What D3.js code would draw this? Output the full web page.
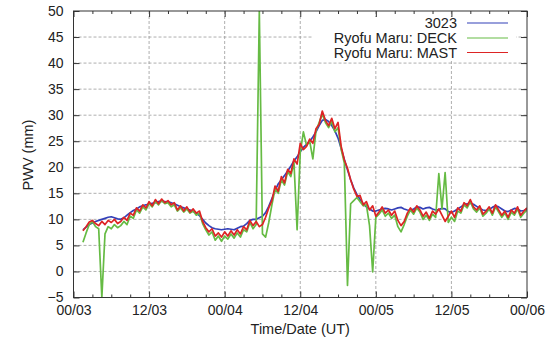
<!DOCTYPE html>
<html>
<head>
<meta charset="utf-8">
<script src="https://cdn.jsdelivr.net/npm/d3@7"></script>
<style>
  html, body { margin: 0; padding: 0; background: #fff; }
  svg { display: block; }
  text { font-family: "Liberation Sans", Arial, Helvetica, sans-serif; fill: #222; }
</style>
</head>
<body>
<svg id="chart" width="548" height="344"></svg>
<script>
// Precipitable water vapour, 3-6 (UT), half-hourly samples from 01:30 on day 03
const startHour = 1.5;
const stepHours = 0.5;

const xTickHours = [0, 12, 24, 36, 48, 60, 72];
const xTickLabels = ["00/03", "12/03", "00/04", "12/04", "00/05", "12/05", "00/06"];
const yTicks = [-5, 0, 5, 10, 15, 20, 25, 30, 35, 40, 45, 50];

const seriesNames = ["3023", "Ryofu Maru: DECK", "Ryofu Maru: MAST"];

const pwv3023 = [
  8.0, 8.5, 9.0, 9.3, 9.6, 9.8, 10.0, 10.2, 10.4, 10.5,
  10.3, 10.1, 10.0, 10.3, 10.8, 11.3, 11.7, 12.0, 12.4, 12.6,
  12.8, 12.9, 13.1, 13.2, 13.4, 13.5, 13.4, 13.3, 13.2, 13.0,
  12.7, 12.4, 12.2, 12.0, 11.8, 11.5, 11.2, 10.7, 10.0, 9.3,
  8.8, 8.4, 8.2, 8.1, 8.0, 8.1, 8.2, 8.1, 8.0, 8.3,
  8.6, 8.7, 9.2, 9.8, 10.0, 10.0, 10.3, 10.6, 11.3, 12.5,
  14.0, 15.5, 16.8, 17.6, 18.4, 19.3, 20.2, 21.2, 22.0, 23.0,
  23.8, 24.4, 25.0, 25.8, 26.8, 28.0, 29.0, 29.2, 28.8, 28.0,
  27.0, 25.6, 23.6, 21.5, 19.5, 17.6, 16.0, 14.8, 13.8, 13.0,
  12.4, 12.0, 11.6, 11.6, 11.8, 12.0, 12.1, 12.0, 11.8, 12.0,
  12.2, 12.3, 12.0, 11.8, 11.7, 12.0, 12.4, 12.3, 12.0, 12.2,
  12.3, 12.0, 11.8, 11.9, 12.1, 12.0, 11.5, 11.3, 11.6, 12.0,
  12.4, 12.8, 13.0, 13.1, 12.9, 12.5, 12.1, 11.8, 11.7, 11.9,
  12.3, 12.6, 12.4, 12.0, 11.6, 11.5, 11.8, 12.1, 12.0, 11.6,
  11.7, 12.0
];

const pwvDeck = [
  5.6, 7.4, 9.0, 9.6, 8.6, 8.2, -5.0, 7.2, 8.6, 8.2,
  9.0, 8.4, 8.8, 9.6, 9.0, 10.6, 10.2, 11.8, 11.2, 12.4,
  11.8, 13.0, 12.4, 13.4, 12.8, 13.6, 13.0, 13.2, 12.4, 12.8,
  11.6, 12.2, 11.4, 12.0, 11.2, 11.6, 10.8, 11.2, 9.2, 8.0,
  7.0, 7.6, 6.0, 6.8, 5.8, 6.8, 6.2, 7.2, 6.4, 7.4,
  6.6, 8.0, 7.6, 9.4, 8.2, 9.0, 50.0, 7.2, 6.6, 9.4,
  12.8, 15.8, 15.0, 17.6, 16.6, 19.2, 18.2, 21.0, 8.0, 22.8,
  26.8, 24.2, 25.0, 21.6, 27.0, 28.6, 30.2, 28.6, 27.6, 28.8,
  26.8, 27.6, 23.4, 20.8, -2.7, 13.0, 13.6, 14.2, 13.4, 12.6,
  12.8, 8.8, -0.1, 10.4, 11.0, 11.8, 10.6, 11.2, 10.2, 10.8,
  8.6, 7.6, 9.0, 10.6, 11.8, 11.0, 12.2, 11.4, 10.0, 10.8,
  9.8, 11.0, 10.4, 18.8, 12.0, 19.0, 9.4, 10.4, 9.6, 11.6,
  11.2, 12.8, 12.2, 13.4, 12.0, 11.4, 12.2, 10.6, 11.2, 12.0,
  10.8, 12.4, 11.4, 10.4, 11.2, 10.0, 11.4, 10.8, 12.0, 10.4,
  11.2, 11.8
];

const pwvMast = [
  7.8, 8.6, 9.5, 9.8, 9.2, 8.8, 9.6, 9.0, 9.8, 9.4,
  10.0, 9.2, 9.6, 10.4, 9.8, 11.2, 10.8, 12.2, 11.6, 12.8,
  12.2, 13.4, 12.6, 13.8, 13.0, 13.9, 13.2, 13.6, 12.8, 13.2,
  11.8, 12.6, 11.6, 12.4, 11.4, 12.0, 11.2, 11.6, 9.6, 8.4,
  7.6, 8.2, 6.8, 7.4, 6.6, 7.6, 6.8, 7.8, 7.0, 8.0,
  7.2, 8.6, 8.0, 9.8, 8.8, 9.6, 8.6, 9.0, 10.4, 12.2,
  13.6, 16.4, 15.4, 18.2, 17.0, 19.6, 18.8, 21.6, 20.6, 24.6,
  23.4, 24.0, 25.4, 24.6, 27.4, 28.2, 30.8, 29.0, 28.0, 29.4,
  27.4, 28.6, 24.0, 21.4, 19.8, 17.6, 15.8, 14.4, 14.6, 12.8,
  13.4, 11.8, 12.6, 10.6, 11.4, 12.4, 11.2, 11.8, 10.8, 11.6,
  9.8, 8.8, 9.6, 11.2, 12.2, 11.4, 12.6, 11.8, 10.6, 11.4,
  10.2, 11.6, 11.0, 12.0, 10.8, 9.6, 10.6, 11.6, 10.4, 12.2,
  11.6, 13.2, 12.6, 13.8, 12.4, 11.8, 12.6, 11.0, 11.6, 12.4,
  11.2, 12.8, 11.8, 10.8, 11.6, 10.4, 11.8, 11.2, 12.4, 10.8,
  11.6, 12.2
];

const seriesColors = ["#3340b8", "#66bb44", "#dd2424"];

// ---- layout ----
const svg = d3.select("#chart");
const plotLeft = 73.5, plotRight = 527, plotTop = 11, plotBottom = 297.5;

const x = d3.scaleLinear().domain([0, 72]).range([plotLeft, plotRight]);
const y = d3.scaleLinear().domain([-5, 50]).range([plotBottom, plotTop]);

svg.append("defs").append("clipPath").attr("id", "plotClip")
  .append("rect").attr("x", plotLeft).attr("y", plotTop)
  .attr("width", plotRight - plotLeft).attr("height", plotBottom - plotTop);

// ---- grid ----
const grid = svg.append("g").attr("stroke", "#9a9a9a").attr("stroke-width", 0.8)
  .attr("stroke-dasharray", "3,2");
grid.selectAll("line.h").data(yTicks.slice(1, -1)).join("line")
  .attr("class", "h")
  .attr("x1", plotLeft).attr("x2", plotRight)
  .attr("y1", d => y(d)).attr("y2", d => y(d));
grid.selectAll("line.v").data(xTickHours.slice(1, -1)).join("line")
  .attr("class", "v")
  .attr("y1", plotTop).attr("y2", plotBottom)
  .attr("x1", d => x(d)).attr("x2", d => x(d));

// ---- legend backing (hides grid behind the key) ----
svg.append("rect").attr("x", 313).attr("y", 17).attr("width", 203).attr("height", 42)
  .attr("fill", "#fff");

// ---- series ----
const series = [pwv3023, pwvDeck, pwvMast];
const line = d3.line()
  .x((d, i) => x(startHour + i * stepHours))
  .y(d => y(d));

const plot = svg.append("g").attr("clip-path", "url(#plotClip)");
series.forEach((vals, k) => {
  plot.append("path")
    .attr("d", line(vals))
    .attr("fill", "none")
    .attr("stroke", seriesColors[k])
    .attr("stroke-width", 1.7)
    .attr("stroke-linejoin", "round");
});

// ---- axes ----
const majorLen = 6, minorLen = 3;
const minorHours = d3.range(0, 73, 3).filter(h => h % 12 !== 0);

function styleAxis(g) {
  g.select(".domain").remove();
  g.selectAll(".tick line").attr("stroke", "#333");
  g.selectAll(".tick text").attr("font-size", 14).attr("fill", "#222");
}

svg.append("g").attr("transform", `translate(0,${plotBottom})`)
  .call(d3.axisBottom(x).tickValues(xTickHours).tickSize(-majorLen).tickPadding(8)
    .tickFormat((d, i) => xTickLabels[i]))
  .call(styleAxis);
svg.append("g").attr("transform", `translate(0,${plotBottom})`)
  .call(d3.axisBottom(x).tickValues(minorHours).tickSize(-minorLen).tickFormat(""))
  .call(styleAxis);
svg.append("g").attr("transform", `translate(0,${plotTop})`)
  .call(d3.axisTop(x).tickValues(xTickHours).tickSize(-majorLen).tickFormat(""))
  .call(styleAxis);
svg.append("g").attr("transform", `translate(0,${plotTop})`)
  .call(d3.axisTop(x).tickValues(minorHours).tickSize(-minorLen).tickFormat(""))
  .call(styleAxis);
svg.append("g").attr("transform", `translate(${plotLeft},0)`)
  .call(d3.axisLeft(y).tickValues(yTicks).tickSize(-majorLen).tickPadding(10))
  .call(styleAxis);
svg.append("g").attr("transform", `translate(${plotRight},0)`)
  .call(d3.axisRight(y).tickValues(yTicks).tickSize(-majorLen).tickFormat(""))
  .call(styleAxis);

// frame
svg.append("rect").attr("x", plotLeft).attr("y", plotTop)
  .attr("width", plotRight - plotLeft).attr("height", plotBottom - plotTop)
  .attr("fill", "none").attr("stroke", "#333").attr("stroke-width", 1);

// ---- axis titles ----
svg.append("text").attr("x", (plotLeft + plotRight) / 2).attr("y", 334)
  .attr("text-anchor", "middle").attr("font-size", 14.5).text("Time/Date (UT)");
svg.append("text").attr("transform", `translate(33,155) rotate(-90)`)
  .attr("text-anchor", "middle").attr("font-size", 14.5).text("PWV (mm)");

// ---- legend ----
const legendRows = [23, 38, 52.5];
const legend = svg.append("g");
seriesNames.forEach((name, k) => {
  legend.append("text").attr("x", 457).attr("y", legendRows[k])
    .attr("dy", "0.36em").attr("text-anchor", "end").attr("font-size", 14.5).text(name);
  legend.append("line").attr("x1", 467).attr("x2", 508)
    .attr("y1", legendRows[k]).attr("y2", legendRows[k])
    .attr("stroke", seriesColors[k]).attr("stroke-width", 1.2);
});
</script>
</body>
</html>
